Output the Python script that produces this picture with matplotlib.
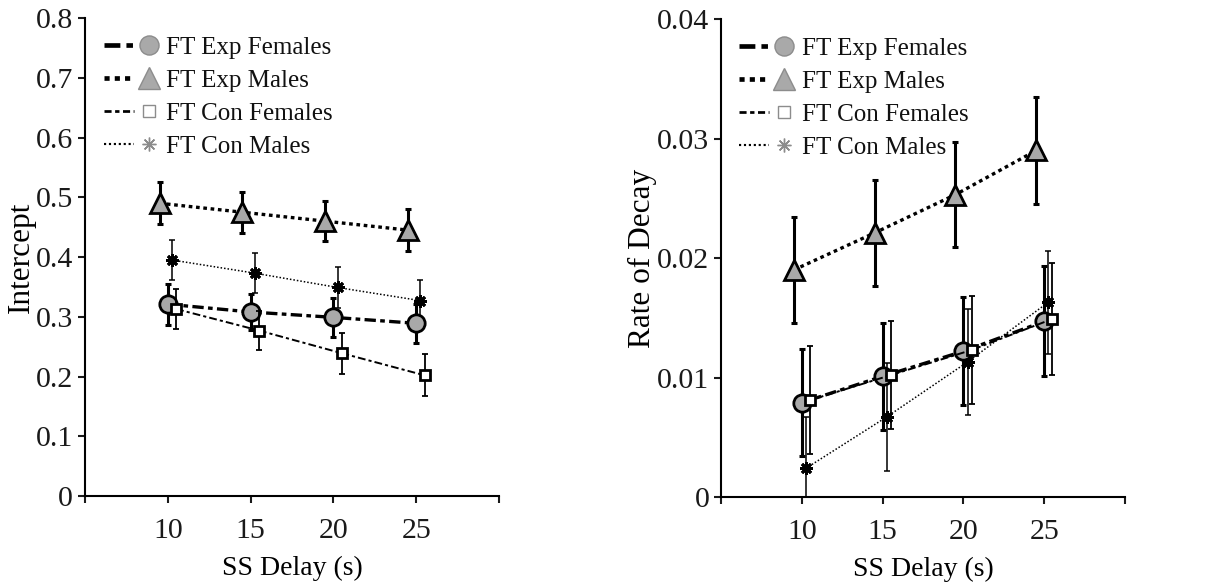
import matplotlib
matplotlib.use("Agg")
import matplotlib.pyplot as plt
from matplotlib.lines import Line2D
from matplotlib.legend_handler import HandlerTuple
from matplotlib.ticker import FuncFormatter

plt.rcParams['font.family'] = ['Liberation Serif', 'DejaVu Serif']

delays = [10, 15, 20, 25]
series_names = ['FT Exp Females', 'FT Exp Males', 'FT Con Females', 'FT Con Males']

# Intercept (left panel)
intercept_exp_f = [0.321, 0.308, 0.299, 0.289]
intercept_exp_m = [0.490, 0.475, 0.460, 0.445]
intercept_con_f = [0.313, 0.277, 0.239, 0.202]
intercept_con_m = [0.395, 0.373, 0.349, 0.327]
intercept_exp_f_err = [0.034, 0.030, 0.033, 0.033]
intercept_exp_m_err = [0.035, 0.034, 0.033, 0.035]
intercept_con_f_err = [0.033, 0.033, 0.034, 0.035]
intercept_con_m_err = [0.034, 0.033, 0.034, 0.035]

# Rate of decay (right panel)
decay_exp_f = [0.0079, 0.0101, 0.0122, 0.0147]
decay_exp_m = [0.0190, 0.0221, 0.0253, 0.0290]
decay_con_f = [0.0081, 0.0102, 0.0123, 0.0149]
decay_con_m = [0.0024, 0.0067, 0.0113, 0.0163]
decay_exp_f_err = [0.0045, 0.0045, 0.0045, 0.0046]
decay_exp_m_err = [0.0044, 0.0044, 0.0044, 0.0045]
decay_con_f_err = [0.0045, 0.0045, 0.0045, 0.0047]
decay_con_m_err = [0.0043, 0.0045, 0.0044, 0.0043]

GRAY = '#a9a9a9'

# style per series: dodge, marker, size, face, line width, dashes
styles = [
    dict(dx=0.0, marker='o', ms=12.5, mfc=GRAY, lw=2.4, elw=2.2, dashes=(3.4, 1.3, 1.4, 1.3), z=5),
    dict(dx=-0.5, marker='^', ms=14.5, mfc=GRAY, lw=2.4, elw=2.2, dashes=(1.1, 1.1), z=4),
    dict(dx=0.5, marker='s', ms=7.5, mfc='white', lw=1.4, elw=1.3, dashes=(4, 1.6, 1.6, 1.6), z=6),
    dict(dx=0.25, marker=(8, 2, 0), ms=9, mfc='black', lw=1.1, elw=1.1, dashes=(1, 1.3), z=3),
]
legend_dashes = [(3.4, 1.3, 1.4, 1.3), (1.1, 1.1), (2.6, 1.3, 1.6, 1.3), (1, 1.3)]


def draw_panel(ax, values, errors, ylim, yticks, ylabel):
    for vals, errs, st in zip(values, errors, styles):
        xs = [d + st['dx'] for d in delays]
        ax.errorbar(xs, vals, yerr=errs, fmt='none', ecolor='black',
                    elinewidth=st['elw'], capsize=2.5, capthick=st['elw'],
                    zorder=st['z'])
        line, = ax.plot(xs, vals, color='black', lw=st['lw'], marker=st['marker'],
                        ms=st['ms'], mfc=st['mfc'], mec='black', mew=2.0,
                        zorder=st['z'] + 0.5)
        line.set_dashes(st['dashes'])

    ax.set_xlim(5, 30)
    ax.set_ylim(*ylim)
    ax.set_xticks([5, 10, 15, 20, 25, 30])
    ax.set_xticklabels(['', '10', '15', '20', '25', ''])
    ax.set_yticks(yticks)
    ax.yaxis.set_major_formatter(FuncFormatter(lambda v, p: '%g' % round(v, 4)))
    for side in ['top', 'right']:
        ax.spines[side].set_visible(False)
    for side in ['left', 'bottom']:
        ax.spines[side].set_linewidth(1.5)
        ax.spines[side].set_clip_on(False)
    ax.tick_params(direction='out', length=5, width=1.5, labelsize=21.5, colors='#1a1a1a')
    ax.tick_params(axis='x', pad=11)
    ax.set_xlabel('SS Delay (s)', fontsize=20, labelpad=8)
    ax.set_ylabel(ylabel, fontsize=22.5, labelpad=0)

    # legend: line segment on the left, gray marker on the right
    handles = []
    for st, dsh in zip(styles, legend_dashes):
        ln = Line2D([], [], color='black', lw=st['lw'] * 1.4)
        ln.set_dashes(dsh)
        face = 'white' if st['marker'] == 's' else GRAY
        size = 8 if st['marker'] == 's' else st['ms'] * 1.1
        mk = Line2D([], [], ls='none', marker=st['marker'], ms=size,
                    mfc=face, mec='#8c8c8c', mew=1.0)
        handles.append((ln, mk))
    leg = ax.legend(handles, series_names, handler_map={tuple: HandlerTuple(ndivide=None, pad=0.0)},
                    loc='upper left', bbox_to_anchor=(0.045, 0.962), frameon=False,
                    fontsize=18, handlelength=2.4, handletextpad=0.1,
                    labelspacing=0.42, borderpad=0, borderaxespad=0)
    for t in leg.get_texts():
        t.set_color('#111111')


fig = plt.figure(figsize=(12.18, 5.87), dpi=100)
ax1 = fig.add_axes([0.0698, 0.155, 0.340, 0.8143])
ax2 = fig.add_axes([0.592, 0.1533, 0.3317, 0.8143])

draw_panel(ax1,
           [intercept_exp_f, intercept_exp_m, intercept_con_f, intercept_con_m],
           [intercept_exp_f_err, intercept_exp_m_err, intercept_con_f_err, intercept_con_m_err],
           (0, 0.8), [0, 0.1, 0.2, 0.3, 0.4, 0.5, 0.6, 0.7, 0.8], 'Intercept')
draw_panel(ax2,
           [decay_exp_f, decay_exp_m, decay_con_f, decay_con_m],
           [decay_exp_f_err, decay_exp_m_err, decay_con_f_err, decay_con_m_err],
           (0, 0.04), [0, 0.01, 0.02, 0.03, 0.04], 'Rate of Decay')

fig.savefig('out.png', dpi=100)
